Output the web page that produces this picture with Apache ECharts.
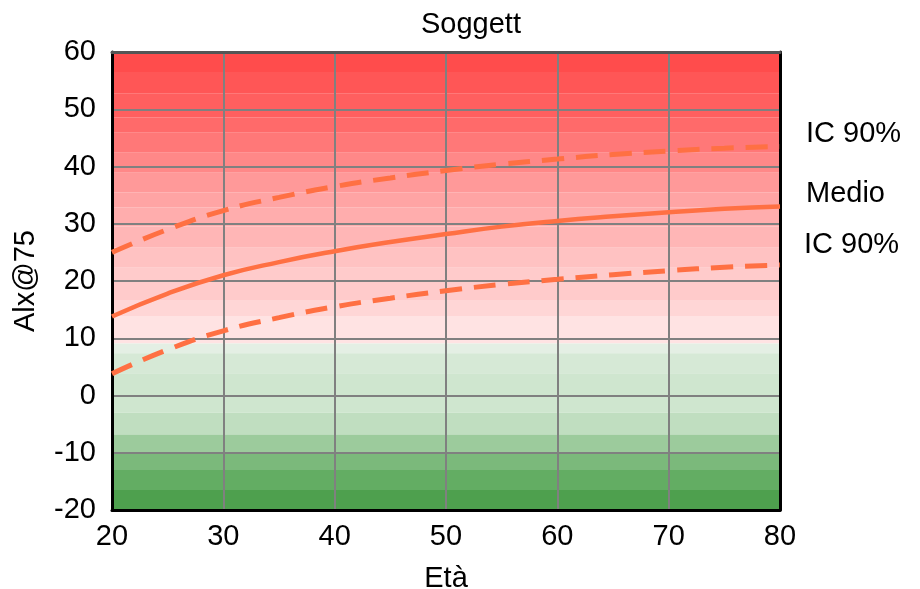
<!DOCTYPE html>
<html>
<head>
<meta charset="utf-8">
<script src="https://cdn.jsdelivr.net/npm/echarts@6/dist/echarts.min.js"></script>
<style>html,body{margin:0;padding:0;background:#fff}#c{width:920px;height:589px}</style>
</head>
<body>
<div id="c"></div>
<script>
var ages = [20, 25, 30, 35, 40, 45, 50, 55, 60, 65, 70, 75, 80];
var medio = [13.8, 17.8, 21.0, 23.3, 25.2, 26.8, 28.2, 29.5, 30.5, 31.3, 32.0, 32.6, 33.0];
var icUpper = [25.0, 29.0, 32.3, 34.6, 36.5, 38.0, 39.3, 40.4, 41.3, 42.1, 42.7, 43.2, 43.5];
var icLower = [3.8, 8.0, 11.3, 13.6, 15.5, 17.0, 18.3, 19.4, 20.3, 21.1, 21.8, 22.4, 22.8];
var xTicks = [20, 30, 40, 50, 60, 70, 80];
var yTicks = [-20, -10, 0, 10, 20, 30, 40, 50, 60];
// background bands: [from, to]
var bandFrom = [56.5, 52.7, 48.6, 45.9, 42.4, 38.9, 35.5, 32.9, 29.5, 25.8, 22.3, 16.7, 13.9, 9.1, 7.4, 3.9, -3, -6.8, -10, -13, -16.5, -20];
var bandTo   = [60, 56.5, 52.7, 48.6, 45.9, 42.4, 38.9, 35.5, 32.9, 29.5, 25.8, 22.3, 16.7, 13.9, 9.1, 7.4, 3.9, -3, -6.8, -10, -13, -16.5];
var bandColors = ['#FF4C4C','#FF5656','#FF5F5F','#FF6A6A','#FF7878','#FF8888','#FF9999','#FFA4A4','#FFADAD','#FFB6B6','#FFC2C2','#FFCBCB','#FFD6D6','#FFE3E3','#E4EFE4','#D6E9D6','#CFE6CF','#C0DEC0','#9CCB9C','#7BB97B','#63AD63','#4EA04E'];

var font = 'Liberation Sans, Arial, sans-serif';
var fs = 29;
var lineColor = '#FF7043';

var bandData = bandFrom.map(function (f, i) { return [f, bandTo[i], i]; });

var chart = echarts.init(document.getElementById('c'));
chart.setOption({
  animation: false,
  title: {
    text: 'Soggett', left: 416, top: 5,
    textStyle: { fontFamily: font, fontSize: fs, fontWeight: 'normal', color: '#000' }
  },
  grid: { left: 112, right: 140, top: 52, bottom: 79, containLabel: false, outerBoundsMode: 'none' },
  xAxis: [{
    type: 'value', min: 20, max: 80, interval: 10, z: 1,
    name: 'Età', nameLocation: 'middle', nameGap: 54,
    nameTextStyle: { fontFamily: font, fontSize: fs, color: '#000' },
    axisLine: { show: true, onZero: false, lineStyle: { color: '#000', width: 3 } },
    axisTick: { show: false },
    axisLabel: { fontFamily: font, fontSize: fs, color: '#000', margin: 12 },
    splitLine: { show: true, lineStyle: { color: '#808080', width: 2 } }
  }, {
    type: 'value', min: 20, max: 80, position: 'top', z: 1,
    axisLine: { show: true, onZero: false, lineStyle: { color: '#555', width: 3 } },
    axisTick: { show: false }, axisLabel: { show: false }, splitLine: { show: false }
  }],
  yAxis: [{
    type: 'value', min: -20, max: 60, interval: 10, z: 1,
    name: 'Alx@75', nameLocation: 'middle', nameGap: 72,
    nameTextStyle: { fontFamily: font, fontSize: fs, color: '#000' },
    axisLine: { show: true, onZero: false, lineStyle: { color: '#000', width: 3 } },
    axisTick: { show: false },
    axisLabel: { fontFamily: font, fontSize: fs, color: '#000', margin: 16 },
    splitLine: { show: true, lineStyle: { color: '#808080', width: 2 } }
  }, {
    type: 'value', min: -20, max: 60, position: 'right', z: 1,
    axisLine: { show: true, onZero: false, lineStyle: { color: '#000', width: 3 } },
    axisTick: { show: false }, axisLabel: { show: false }, splitLine: { show: false }
  }],
  series: [{
    type: 'custom', z: 0, silent: true,
    data: bandData,
    renderItem: function (params, api) {
      var p1 = api.coord([20, api.value(1)]);
      var p2 = api.coord([80, api.value(0)]);
      return {
        type: 'rect',
        shape: { x: p1[0], y: p1[1], width: p2[0] - p1[0], height: p2[1] - p1[1] },
        style: { fill: bandColors[api.value(2)], stroke: null }
      };
    }
  }, {
    name: 'IC 90%', type: 'line', z: 3, smooth: true, symbol: 'none',
    data: ages.map(function (a, i) { return [a, icUpper[i]]; }),
    lineStyle: { color: lineColor, width: 5, type: [22, 12] },
    endLabel: { show: true, formatter: 'IC 90%', distance: 26, offset: [0, -12],
      fontFamily: font, fontSize: fs, color: '#000' }
  }, {
    name: 'Medio', type: 'line', z: 3, smooth: true, symbol: 'none',
    data: ages.map(function (a, i) { return [a, medio[i]]; }),
    lineStyle: { color: lineColor, width: 4.5 },
    endLabel: { show: true, formatter: 'Medio', distance: 26, offset: [0, -13],
      fontFamily: font, fontSize: fs, color: '#000' }
  }, {
    name: 'IC 90%', type: 'line', z: 3, smooth: true, symbol: 'none',
    data: ages.map(function (a, i) { return [a, icLower[i]]; }),
    lineStyle: { color: lineColor, width: 5, type: [22, 12] },
    endLabel: { show: true, formatter: 'IC 90%', distance: 24, offset: [0, -20],
      fontFamily: font, fontSize: fs, color: '#000' }
  }]
});
</script>
</body>
</html>
